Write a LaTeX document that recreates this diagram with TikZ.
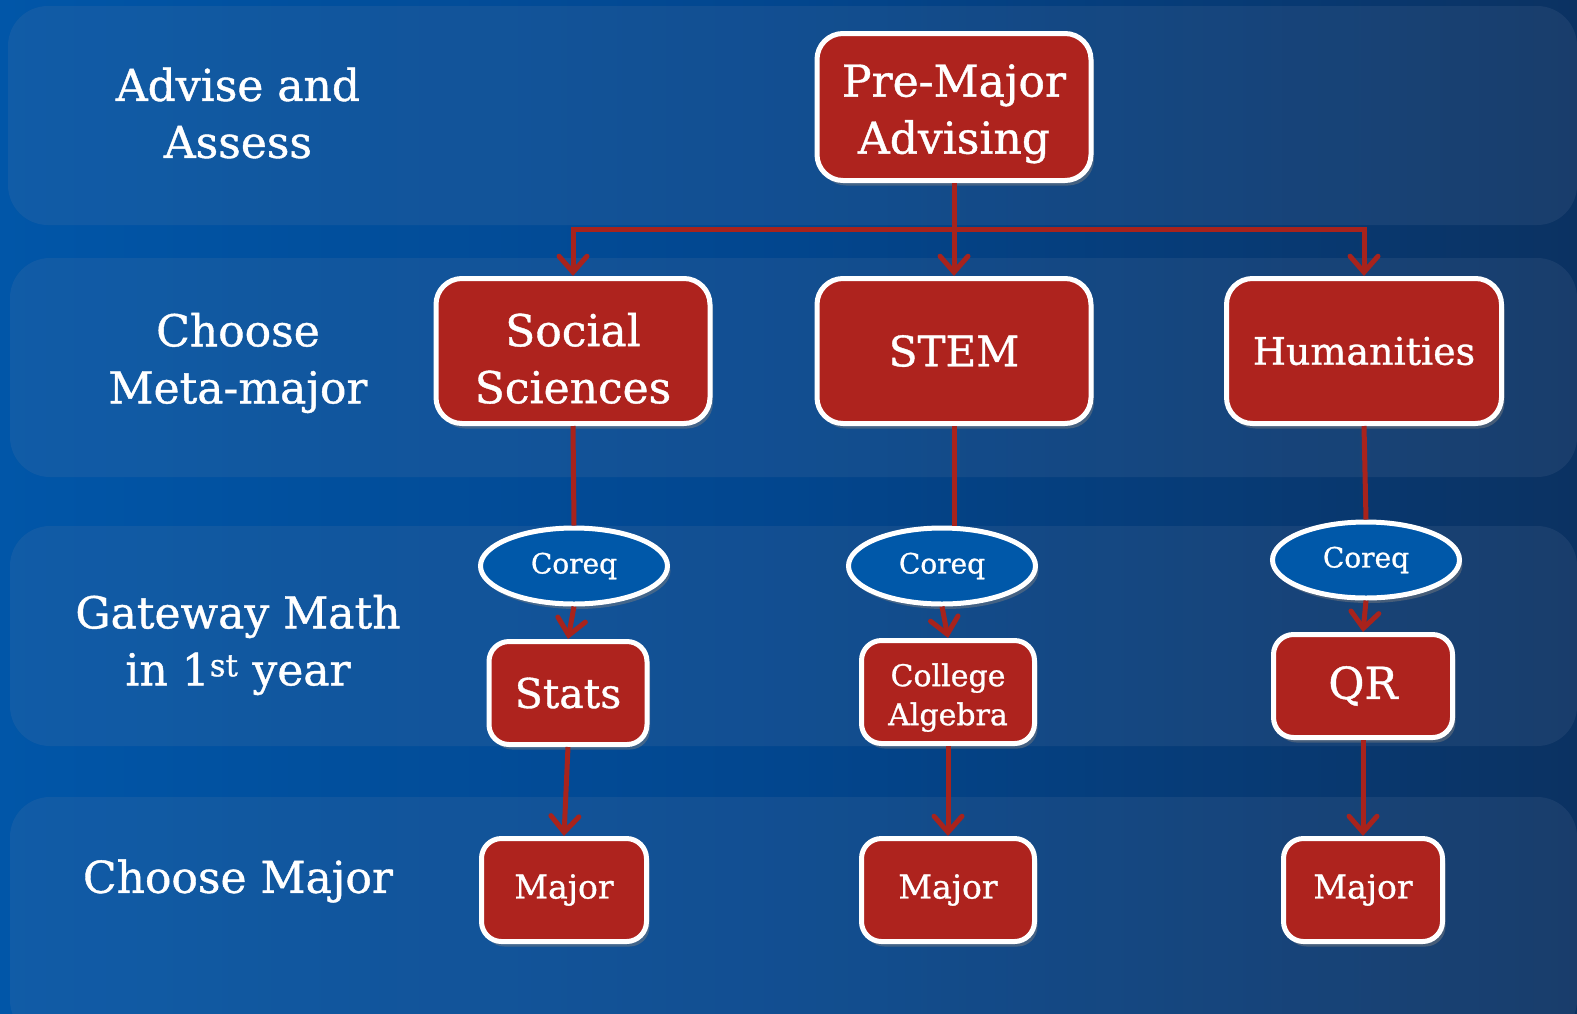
\documentclass[tikz,border=0pt]{standalone}
\usepackage{fontspec}
\setmainfont{DejaVu Serif}[FakeBold=0.9]
\usetikzlibrary{arrows.meta,shapes.geometric,shadows}
\definecolor{bgL}{HTML}{0156A8}
\definecolor{bgM}{HTML}{02468E}
\definecolor{bgR}{HTML}{0B3262}
\definecolor{bandc}{RGB}{110,130,165}
\definecolor{boxred}{HTML}{AE231E}
\definecolor{coreqblue}{HTML}{0058A9}
\definecolor{linered}{HTML}{A8231C}
\tikzset{
  band/.style={fill=bandc, fill opacity=0.15, rounded corners=40pt},
  lbl/.style={text=white, align=center, font=\fontsize{44}{57}\selectfont},
  redbox/.style={draw=white, line width=5pt, fill=boxred, rounded corners=26pt,
     text=white, align=center, inner sep=0pt,
     drop shadow={opacity=0.45, shadow xshift=3pt, shadow yshift=-5pt}},
  smallbox/.style={redbox, rounded corners=20pt},
  coreq/.style={ellipse, draw=white, line width=5pt, fill=coreqblue, text=white,
     inner sep=0pt, minimum width=187pt, minimum height=76pt,
     font=\fontsize{28}{32}\selectfont,
     drop shadow={opacity=0.45, shadow xshift=3pt, shadow yshift=-5pt}},
  conn/.style={draw=linered, line width=5pt},
  arr/.style={conn, -{Straight Barb[length=16pt, width=28pt, line cap=round]}},
}
\begin{document}
\begin{tikzpicture}[x=1pt,y=-1pt]
\useasboundingbox (0,0) rectangle (1577,1013);
\shade[left color=bgL, right color=bgR, middle color=bgM] (0,0) rectangle (1577,1013);
\begin{scope}
\clip (0,0) rectangle (1577,1013);
\fill[band] (8,6) rectangle (1577,225);
\fill[band] (10,258) rectangle (1577,477);
\fill[band] (10,526) rectangle (1577,746);
\fill[band] (10,797) rectangle (1577,1040);
\end{scope}

% left labels
\node[lbl] (l1) at (238,113) {Advise and\\Assess};
\node[lbl] (l2) at (238,363) {Choose\\Meta-major};
\node[lbl] (l3) at (238,645) {Gateway Math\\in 1\textsuperscript{st} year};
\node[lbl] (l4) at (238,881) {Choose Major};

% boxes
\node[redbox, minimum width=274pt, minimum height=147pt, font=\fontsize{44}{57}\selectfont] (pm) at (954,107) {\rule{0pt}{46pt}Pre-Major\\Advising};
\node[redbox, minimum width=274pt, minimum height=145pt, font=\fontsize{44}{57}\selectfont] (ss) at (573,351) {\rule{0pt}{48pt}Social\\Sciences};
\node[redbox, minimum width=274pt, minimum height=145pt, font=\fontsize{42}{50}\selectfont] (st) at (954,351) {STEM};
\node[redbox, minimum width=275pt, minimum height=145pt, font=\fontsize{38}{46}\selectfont] (hu) at (1364,351) {Humanities};

\node[coreq] (c1) at (574,566) {Coreq};
\node[coreq] (c2) at (942,566) {Coreq};
\node[coreq] (c3) at (1366,560) {Coreq};

\node[smallbox, minimum width=158pt, minimum height=103pt, font=\fontsize{41}{50}\selectfont] (s1) at (568,693) {Stats};
\node[smallbox, minimum width=173pt, minimum height=103pt, font=\fontsize{30}{39}\selectfont] (s2) at (948,692) {\rule{0pt}{34pt}College\\Algebra};
\node[smallbox, minimum width=179pt, minimum height=103pt, font=\fontsize{44}{50}\selectfont] (s3) at (1363,686) {QR};

\node[smallbox, minimum width=165pt, minimum height=103pt, font=\fontsize{33}{40}\selectfont] (m1) at (564,890) {Major};
\node[smallbox, minimum width=173pt, minimum height=103pt, font=\fontsize{33}{40}\selectfont] (m2) at (948,890) {Major};
\node[smallbox, minimum width=159pt, minimum height=103pt, font=\fontsize{33}{40}\selectfont] (m3) at (1363,890) {Major};

% connectors
\coordinate (bar) at (954,229);
\draw[arr] (pm.south) -- (bar) -| (ss.north);
\draw[arr] (pm.south) -- (bar) -| (hu.north);
\draw[arr] (pm.south) -- (st.north);

\draw[conn] (ss.south) -- (c1.north);
\draw[conn] (st.south) -- (c2.north -| st.south);
\draw[conn] (hu.south) -- (c3.north);

\draw[arr] (c1.south) -- (s1.north);
\draw[arr] (c2.south) -- (s2.north);
\draw[arr] (c3.south) -- (s3.north);

\draw[arr] (s1.south) -- (m1.north);
\draw[arr] (s2.south) -- (m2.north);
\draw[arr] (s3.south) -- (m3.north);
\end{tikzpicture}
\end{document}
